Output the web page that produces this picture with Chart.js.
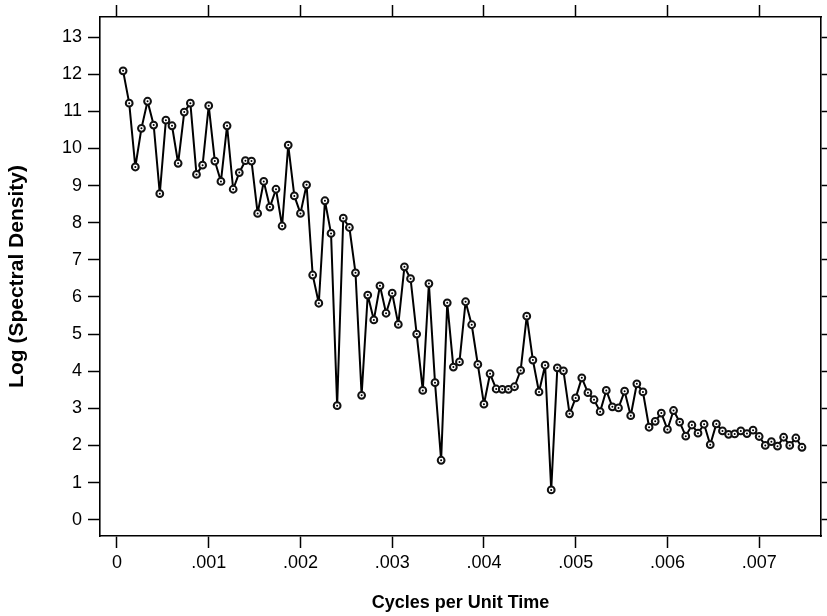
<!DOCTYPE html>
<html>
<head>
<meta charset="utf-8">
<script src="https://cdn.jsdelivr.net/npm/chart.js@4.4.1/dist/chart.umd.min.js"></script>
<style>
  html, body { margin: 0; padding: 0; background: #fff; }
  #wrap { width: 827px; height: 616px; }
</style>
</head>
<body>
<div id="wrap"><canvas id="myChart" width="827" height="616"></canvas></div>
<script>
// periodogram frequency step (cycles per unit time)
const freqStep = 1 / 15000;

// log spectral density, one value per frequency k * freqStep, k = 1..112
const logSpec = [
  12.09, 11.22, 9.50, 10.54, 11.27, 10.63, 8.78, 10.76, 10.61, 9.60,
  10.98, 11.22, 9.30, 9.55, 11.15, 9.66, 9.11, 10.61, 8.90, 9.35,
  9.67, 9.66, 8.25, 9.11, 8.42, 8.90, 7.91, 10.09, 8.72, 8.25,
  9.02, 6.59, 5.83, 8.59, 7.71, 3.07, 8.12, 7.87, 6.65, 3.35,
  6.05, 5.38, 6.30, 5.56, 6.10, 5.26, 6.81, 6.49, 5.00, 3.48,
  6.36, 3.69, 1.60, 5.84, 4.11, 4.25, 5.87, 5.25, 4.18, 3.11,
  3.93, 3.52, 3.51, 3.51, 3.58, 4.02, 5.48, 4.30, 3.44, 4.16,
  0.80, 4.09, 4.01, 2.85, 3.28, 3.82, 3.42, 3.23, 2.91, 3.48,
  3.04, 3.01, 3.46, 2.80, 3.66, 3.44, 2.49, 2.65, 2.87, 2.43,
  2.94, 2.63, 2.25, 2.55, 2.33, 2.57, 2.02, 2.58, 2.39, 2.30,
  2.31, 2.39, 2.32, 2.41, 2.24, 2.00, 2.10, 1.98, 2.22, 2.00,
  2.20, 1.95
];

const xTicks = [0, 0.001, 0.002, 0.003, 0.004, 0.005, 0.006, 0.007];
const yTicks = [0, 1, 2, 3, 4, 5, 6, 7, 8, 9, 10, 11, 12, 13];

const points = logSpec.map((v, i) => ({ x: (i + 1) * freqStep, y: v }));

Chart.defaults.font.family = '"Liberation Sans", Arial, sans-serif';
Chart.defaults.color = '#000';

const ctx = document.getElementById('myChart');

function xLabel(v) {
  if (v === 0) return '0';
  return v.toFixed(3).replace(/^0/, '');
}

const tickGrid = {
  drawOnChartArea: false,
  drawTicks: true,
  tickLength: 12,
  tickWidth: 1.5,
  tickColor: '#000'
};
const border = { display: true, color: '#000', width: 1.6 };

new Chart(ctx, {
  type: 'line',
  data: {
    datasets: [{
      data: points,
      order: 1,
      borderColor: '#000',
      borderWidth: 2,
      borderJoinStyle: 'round',
      pointRadius: 3.4,
      pointBorderWidth: 2,
      pointBackgroundColor: '#fff',
      pointBorderColor: '#111',
      tension: 0,
      fill: false
    }, {
      // small centre dot of each marker
      data: points,
      order: 0,
      showLine: false,
      pointRadius: 1,
      pointBorderWidth: 0,
      pointBackgroundColor: '#000'
    }]
  },
  options: {
    responsive: false,
    animation: false,
    layout: { padding: 0 },
    plugins: { legend: { display: false }, tooltip: { enabled: false } },
    scales: {
      x: {
        type: 'linear',
        position: 'bottom',
        min: -0.000185,
        max: 0.007674,
        afterBuildTicks: s => { s.ticks = xTicks.map(v => ({ value: v })); },
        afterFit: s => { s.height = 80; },
        ticks: { callback: xLabel, padding: 4, font: { size: 18 }, maxRotation: 0 },
        grid: tickGrid,
        border: border,
        title: {
          display: true,
          text: 'Cycles per Unit Time',
          font: { size: 18, weight: 'bold' },
          padding: { top: 0, bottom: 2 }
        }
      },
      xTop: {
        type: 'linear',
        position: 'top',
        min: -0.000185,
        max: 0.007674,
        afterBuildTicks: s => { s.ticks = xTicks.map(v => ({ value: v })); },
        afterFit: s => { s.height = 17; },
        ticks: { display: false },
        grid: tickGrid,
        border: border
      },
      y: {
        type: 'linear',
        position: 'left',
        min: -0.44,
        max: 13.54,
        afterBuildTicks: s => { s.ticks = yTicks.map(v => ({ value: v })); },
        afterFit: s => { s.width = 100; },
        ticks: { padding: 6, font: { size: 18 } },
        grid: tickGrid,
        border: border,
        title: {
          display: true,
          text: 'Log (Spectral Density)',
          font: { size: 21, weight: 'bold' },
          padding: { top: 5, bottom: 0 }
        }
      },
      yRight: {
        type: 'linear',
        position: 'right',
        min: -0.44,
        max: 13.54,
        afterBuildTicks: s => { s.ticks = yTicks.map(v => ({ value: v })); },
        afterFit: s => { s.width = 4; },
        ticks: { display: false },
        grid: tickGrid,
        border: border
      }
    }
  }
});
</script>
</body>
</html>
